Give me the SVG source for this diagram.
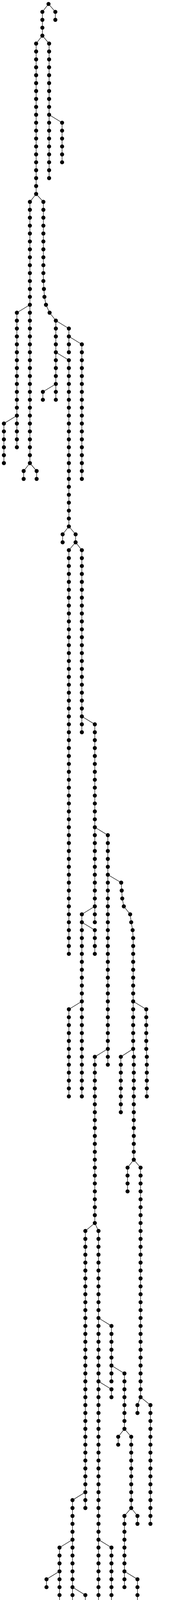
<svg xmlns="http://www.w3.org/2000/svg" width="467" height="4965" viewBox="0 0 467 4965">
<style>
.e path{fill:none;stroke:#000;stroke-width:1.2}
circle{fill:#000}
</style>
<rect width="467" height="4965" fill="#fff"/>
<g id="connectors" class="e">
<path d="M124.5 10.1L108.7 30.4V91.2"/>
<path d="M124.5 10.1L142 30.4V50.7"/>
<path d="M108.7 91.2L92.7 111.5V496.5"/>
<path d="M108.7 91.2L126 111.5V456"/>
<path d="M126 293.8L159.3 314.1V415.4"/>
<path d="M92.7 496.5L76.7 516.8V1185.5"/>
<path d="M92.7 496.5L111.3 516.8V719.4L112.7 739.7L114 759.9L118 780.2L127.3 800.5L143.3 820.7V1023.4"/>
<path d="M76.7 780.2L43.3 800.5V1145"/>
<path d="M76.7 1185.5L60.7 1205.8V1226"/>
<path d="M76.7 1185.5L94 1205.8V1226"/>
<path d="M43.3 1063.9L10 1084.2V1185.5"/>
<path d="M143.3 820.7L176.7 841V901.8"/>
<path d="M143.3 901.8L176.7 922.1V1347.6"/>
<path d="M143.3 982.9L110 1003.1V1023.4"/>
<path d="M176.7 861.3L210 881.5V1226"/>
<path d="M176.7 1347.6L160.7 1367.9V1388.2"/>
<path d="M176.7 1347.6L194 1367.9V1388.2"/>
<path d="M194 1388.2L176.7 1408.4V2441.9"/>
<path d="M194 1388.2L210 1408.4V1874.5"/>
<path d="M210 1834L243.3 1854.2V2360.9"/>
<path d="M243.3 2117.7L276.7 2138V2725.6"/>
<path d="M243.3 2320.3L210 2340.6V2806.7"/>
<path d="M210 2360.9L243.3 2381.1V2441.9"/>
<path d="M210 2563.5L176.7 2583.8V2806.7"/>
<path d="M276.7 2239.3L311 2259.5L312.3 2279.8L313.7 2300.1L317.7 2320.3L334 2340.6L336.7 2360.9L340.3 2381.1L341.7 2401.4V2685.1L343.3 2705.4V2968.8"/>
<path d="M276.7 2685.1L243.3 2705.4V3130.9"/>
<path d="M243.3 3130.9L219 3151.2V3860.5"/>
<path d="M243.3 3130.9L252.7 3151.2V4184.7"/>
<path d="M341.7 2563.5L375.3 2583.8V2685.1L376.7 2705.4V2806.7"/>
<path d="M341.7 2685.1L310 2705.4V2847.2"/>
<path d="M343.3 2968.8L327.3 2989.1V3049.9"/>
<path d="M343.3 2968.8L360.7 2989.1V3576.8"/>
<path d="M360.7 3576.8L352.7 3597V3617.3"/>
<path d="M360.7 3576.8L386 3597V3901"/>
<path d="M252.7 3374.1L286 3394.4V3536.2"/>
<path d="M252.7 3536.2L286 3556.5V3576.8"/>
<path d="M252.7 3941.5L286 3961.8V4103.7"/>
<path d="M286 3495.7L319.3 3516V3657.8"/>
<path d="M319.3 3657.8L303.3 3678.1V3698.4"/>
<path d="M319.3 3657.8L336.7 3678.1V3860.5"/>
<path d="M336.7 3860.5L319.3 3880.7V4063.1"/>
<path d="M336.7 3860.5L352.7 3880.7V3901"/>
<path d="M319.3 4022.6L352.7 4042.9V4265.8"/>
<path d="M352.7 4265.8L340.7 4286V4630.6"/>
<path d="M352.7 4265.8L374 4286V4509"/>
<path d="M340.7 4387.4L307.3 4407.6V4590"/>
<path d="M307.3 4427.9L274 4448.2V4468.4"/>
<path d="M307.3 4549.5L274 4569.8V4914.3"/>
<path d="M374 4468.4L407.3 4488.7V4711.6"/>
<path d="M407.3 4711.6L390 4731.9V4833.2"/>
<path d="M407.3 4711.6L423.3 4731.9V4792.7"/>
<path d="M423.3 4752.1L456.7 4772.4V4954.8"/>
<path d="M219 3820L186 3840.2V4346.8"/>
<path d="M186 3941.5L152.7 3961.8V4103.7"/>
<path d="M186 4063.1L219 4083.4V4103.7"/>
<path d="M186 4346.8L170 4367.1V4549.5"/>
<path d="M186 4346.8L203.3 4367.1V4549.5"/>
<path d="M152.7 4022.6L119.3 4042.9V4063.1"/>
<path d="M203.3 4549.5L195.3 4569.8V4671.1"/>
<path d="M203.3 4549.5L228.7 4569.8V4590"/>
</g>
<g id="nodes">
<g id="n1_0"><circle cx="124.5" cy="10.1" r="5.2"/></g>
<g id="n2_1"><circle cx="108.7" cy="30.4" r="5.2"/></g>
<g id="n2_2"><circle cx="108.7" cy="50.7" r="5.2"/></g>
<g id="n2_3"><circle cx="108.7" cy="70.9" r="5.2"/></g>
<g id="n2_4"><circle cx="108.7" cy="91.2" r="5.2"/></g>
<g id="n3_1"><circle cx="142" cy="30.4" r="5.2"/></g>
<g id="n3_2"><circle cx="142" cy="50.7" r="5.2"/></g>
<g id="n4_5"><circle cx="92.7" cy="111.5" r="5.2"/></g>
<g id="n4_6"><circle cx="92.7" cy="131.7" r="5.2"/></g>
<g id="n4_7"><circle cx="92.7" cy="152" r="5.2"/></g>
<g id="n4_8"><circle cx="92.7" cy="172.3" r="5.2"/></g>
<g id="n4_9"><circle cx="92.7" cy="192.5" r="5.2"/></g>
<g id="n4_10"><circle cx="92.7" cy="212.8" r="5.2"/></g>
<g id="n4_11"><circle cx="92.7" cy="233" r="5.2"/></g>
<g id="n4_12"><circle cx="92.7" cy="253.3" r="5.2"/></g>
<g id="n4_13"><circle cx="92.7" cy="273.6" r="5.2"/></g>
<g id="n4_14"><circle cx="92.7" cy="293.8" r="5.2"/></g>
<g id="n4_15"><circle cx="92.7" cy="314.1" r="5.2"/></g>
<g id="n4_16"><circle cx="92.7" cy="334.4" r="5.2"/></g>
<g id="n4_17"><circle cx="92.7" cy="354.6" r="5.2"/></g>
<g id="n4_18"><circle cx="92.7" cy="374.9" r="5.2"/></g>
<g id="n4_19"><circle cx="92.7" cy="395.2" r="5.2"/></g>
<g id="n4_20"><circle cx="92.7" cy="415.4" r="5.2"/></g>
<g id="n4_21"><circle cx="92.7" cy="435.7" r="5.2"/></g>
<g id="n4_22"><circle cx="92.7" cy="456" r="5.2"/></g>
<g id="n4_23"><circle cx="92.7" cy="476.2" r="5.2"/></g>
<g id="n4_24"><circle cx="92.7" cy="496.5" r="5.2"/></g>
<g id="n5_5"><circle cx="126" cy="111.5" r="5.2"/></g>
<g id="n5_6"><circle cx="126" cy="131.7" r="5.2"/></g>
<g id="n5_7"><circle cx="126" cy="152" r="5.2"/></g>
<g id="n5_8"><circle cx="126" cy="172.3" r="5.2"/></g>
<g id="n5_9"><circle cx="126" cy="192.5" r="5.2"/></g>
<g id="n5_10"><circle cx="126" cy="212.8" r="5.2"/></g>
<g id="n5_11"><circle cx="126" cy="233" r="5.2"/></g>
<g id="n5_12"><circle cx="126" cy="253.3" r="5.2"/></g>
<g id="n5_13"><circle cx="126" cy="273.6" r="5.2"/></g>
<g id="n5_14"><circle cx="126" cy="293.8" r="5.2"/></g>
<g id="n5_15"><circle cx="126" cy="314.1" r="5.2"/></g>
<g id="n5_16"><circle cx="126" cy="334.4" r="5.2"/></g>
<g id="n5_17"><circle cx="126" cy="354.6" r="5.2"/></g>
<g id="n5_18"><circle cx="126" cy="374.9" r="5.2"/></g>
<g id="n5_19"><circle cx="126" cy="395.2" r="5.2"/></g>
<g id="n5_20"><circle cx="126" cy="415.4" r="5.2"/></g>
<g id="n5_21"><circle cx="126" cy="435.7" r="5.2"/></g>
<g id="n5_22"><circle cx="126" cy="456" r="5.2"/></g>
<g id="n6_15"><circle cx="159.3" cy="314.1" r="5.2"/></g>
<g id="n6_16"><circle cx="159.3" cy="334.4" r="5.2"/></g>
<g id="n6_17"><circle cx="159.3" cy="354.6" r="5.2"/></g>
<g id="n6_18"><circle cx="159.3" cy="374.9" r="5.2"/></g>
<g id="n6_19"><circle cx="159.3" cy="395.2" r="5.2"/></g>
<g id="n6_20"><circle cx="159.3" cy="415.4" r="5.2"/></g>
<g id="n7_25"><circle cx="76.7" cy="516.8" r="5.2"/></g>
<g id="n7_26"><circle cx="76.7" cy="537" r="5.2"/></g>
<g id="n7_27"><circle cx="76.7" cy="557.3" r="5.2"/></g>
<g id="n7_28"><circle cx="76.7" cy="577.6" r="5.2"/></g>
<g id="n7_29"><circle cx="76.7" cy="597.8" r="5.2"/></g>
<g id="n7_30"><circle cx="76.7" cy="618.1" r="5.2"/></g>
<g id="n7_31"><circle cx="76.7" cy="638.3" r="5.2"/></g>
<g id="n7_32"><circle cx="76.7" cy="658.6" r="5.2"/></g>
<g id="n7_33"><circle cx="76.7" cy="678.9" r="5.2"/></g>
<g id="n7_34"><circle cx="76.7" cy="699.1" r="5.2"/></g>
<g id="n7_35"><circle cx="76.7" cy="719.4" r="5.2"/></g>
<g id="n7_36"><circle cx="76.7" cy="739.7" r="5.2"/></g>
<g id="n7_37"><circle cx="76.7" cy="759.9" r="5.2"/></g>
<g id="n7_38"><circle cx="76.7" cy="780.2" r="5.2"/></g>
<g id="n7_39"><circle cx="76.7" cy="800.5" r="5.2"/></g>
<g id="n7_40"><circle cx="76.7" cy="820.7" r="5.2"/></g>
<g id="n7_41"><circle cx="76.7" cy="841" r="5.2"/></g>
<g id="n7_42"><circle cx="76.7" cy="861.3" r="5.2"/></g>
<g id="n7_43"><circle cx="76.7" cy="881.5" r="5.2"/></g>
<g id="n7_44"><circle cx="76.7" cy="901.8" r="5.2"/></g>
<g id="n7_45"><circle cx="76.7" cy="922.1" r="5.2"/></g>
<g id="n7_46"><circle cx="76.7" cy="942.3" r="5.2"/></g>
<g id="n7_47"><circle cx="76.7" cy="962.6" r="5.2"/></g>
<g id="n7_48"><circle cx="76.7" cy="982.9" r="5.2"/></g>
<g id="n7_49"><circle cx="76.7" cy="1003.1" r="5.2"/></g>
<g id="n7_50"><circle cx="76.7" cy="1023.4" r="5.2"/></g>
<g id="n7_51"><circle cx="76.7" cy="1043.6" r="5.2"/></g>
<g id="n7_52"><circle cx="76.7" cy="1063.9" r="5.2"/></g>
<g id="n7_53"><circle cx="76.7" cy="1084.2" r="5.2"/></g>
<g id="n7_54"><circle cx="76.7" cy="1104.4" r="5.2"/></g>
<g id="n7_55"><circle cx="76.7" cy="1124.7" r="5.2"/></g>
<g id="n7_56"><circle cx="76.7" cy="1145" r="5.2"/></g>
<g id="n7_57"><circle cx="76.7" cy="1165.2" r="5.2"/></g>
<g id="n7_58"><circle cx="76.7" cy="1185.5" r="5.2"/></g>
<g id="n8_25"><circle cx="111.3" cy="516.8" r="5.2"/></g>
<g id="n8_26"><circle cx="111.3" cy="537" r="5.2"/></g>
<g id="n8_27"><circle cx="111.3" cy="557.3" r="5.2"/></g>
<g id="n8_28"><circle cx="111.3" cy="577.6" r="5.2"/></g>
<g id="n8_29"><circle cx="111.3" cy="597.8" r="5.2"/></g>
<g id="n8_30"><circle cx="111.3" cy="618.1" r="5.2"/></g>
<g id="n8_31"><circle cx="111.3" cy="638.3" r="5.2"/></g>
<g id="n8_32"><circle cx="111.3" cy="658.6" r="5.2"/></g>
<g id="n8_33"><circle cx="111.3" cy="678.9" r="5.2"/></g>
<g id="n8_34"><circle cx="111.3" cy="699.1" r="5.2"/></g>
<g id="n8_35"><circle cx="111.3" cy="719.4" r="5.2"/></g>
<g id="n8_36"><circle cx="112.7" cy="739.7" r="5.2"/></g>
<g id="n8_37"><circle cx="114" cy="759.9" r="5.2"/></g>
<g id="n8_38"><circle cx="118" cy="780.2" r="5.2"/></g>
<g id="n8_39"><circle cx="127.3" cy="800.5" r="5.2"/></g>
<g id="n8_40"><circle cx="143.3" cy="820.7" r="5.2"/></g>
<g id="n8_41"><circle cx="143.3" cy="841" r="5.2"/></g>
<g id="n8_42"><circle cx="143.3" cy="861.3" r="5.2"/></g>
<g id="n8_43"><circle cx="143.3" cy="881.5" r="5.2"/></g>
<g id="n8_44"><circle cx="143.3" cy="901.8" r="5.2"/></g>
<g id="n8_45"><circle cx="143.3" cy="922.1" r="5.2"/></g>
<g id="n8_46"><circle cx="143.3" cy="942.3" r="5.2"/></g>
<g id="n8_47"><circle cx="143.3" cy="962.6" r="5.2"/></g>
<g id="n8_48"><circle cx="143.3" cy="982.9" r="5.2"/></g>
<g id="n8_49"><circle cx="143.3" cy="1003.1" r="5.2"/></g>
<g id="n8_50"><circle cx="143.3" cy="1023.4" r="5.2"/></g>
<g id="n9_39"><circle cx="43.3" cy="800.5" r="5.2"/></g>
<g id="n9_40"><circle cx="43.3" cy="820.7" r="5.2"/></g>
<g id="n9_41"><circle cx="43.3" cy="841" r="5.2"/></g>
<g id="n9_42"><circle cx="43.3" cy="861.3" r="5.2"/></g>
<g id="n9_43"><circle cx="43.3" cy="881.5" r="5.2"/></g>
<g id="n9_44"><circle cx="43.3" cy="901.8" r="5.2"/></g>
<g id="n9_45"><circle cx="43.3" cy="922.1" r="5.2"/></g>
<g id="n9_46"><circle cx="43.3" cy="942.3" r="5.2"/></g>
<g id="n9_47"><circle cx="43.3" cy="962.6" r="5.2"/></g>
<g id="n9_48"><circle cx="43.3" cy="982.9" r="5.2"/></g>
<g id="n9_49"><circle cx="43.3" cy="1003.1" r="5.2"/></g>
<g id="n9_50"><circle cx="43.3" cy="1023.4" r="5.2"/></g>
<g id="n9_51"><circle cx="43.3" cy="1043.6" r="5.2"/></g>
<g id="n9_52"><circle cx="43.3" cy="1063.9" r="5.2"/></g>
<g id="n9_53"><circle cx="43.3" cy="1084.2" r="5.2"/></g>
<g id="n9_54"><circle cx="43.3" cy="1104.4" r="5.2"/></g>
<g id="n9_55"><circle cx="43.3" cy="1124.7" r="5.2"/></g>
<g id="n9_56"><circle cx="43.3" cy="1145" r="5.2"/></g>
<g id="n10_59"><circle cx="60.7" cy="1205.8" r="5.2"/></g>
<g id="n10_60"><circle cx="60.7" cy="1226" r="5.2"/></g>
<g id="n11_59"><circle cx="94" cy="1205.8" r="5.2"/></g>
<g id="n11_60"><circle cx="94" cy="1226" r="5.2"/></g>
<g id="n12_53"><circle cx="10" cy="1084.2" r="5.2"/></g>
<g id="n12_54"><circle cx="10" cy="1104.4" r="5.2"/></g>
<g id="n12_55"><circle cx="10" cy="1124.7" r="5.2"/></g>
<g id="n12_56"><circle cx="10" cy="1145" r="5.2"/></g>
<g id="n12_57"><circle cx="10" cy="1165.2" r="5.2"/></g>
<g id="n12_58"><circle cx="10" cy="1185.5" r="5.2"/></g>
<g id="n13_41"><circle cx="176.7" cy="841" r="5.2"/></g>
<g id="n13_42"><circle cx="176.7" cy="861.3" r="5.2"/></g>
<g id="n13_43"><circle cx="176.7" cy="881.5" r="5.2"/></g>
<g id="n13_44"><circle cx="176.7" cy="901.8" r="5.2"/></g>
<g id="n14_45"><circle cx="176.7" cy="922.1" r="5.2"/></g>
<g id="n14_46"><circle cx="176.7" cy="942.3" r="5.2"/></g>
<g id="n14_47"><circle cx="176.7" cy="962.6" r="5.2"/></g>
<g id="n14_48"><circle cx="176.7" cy="982.9" r="5.2"/></g>
<g id="n14_49"><circle cx="176.7" cy="1003.1" r="5.2"/></g>
<g id="n14_50"><circle cx="176.7" cy="1023.4" r="5.2"/></g>
<g id="n14_51"><circle cx="176.7" cy="1043.6" r="5.2"/></g>
<g id="n14_52"><circle cx="176.7" cy="1063.9" r="5.2"/></g>
<g id="n14_53"><circle cx="176.7" cy="1084.2" r="5.2"/></g>
<g id="n14_54"><circle cx="176.7" cy="1104.4" r="5.2"/></g>
<g id="n14_55"><circle cx="176.7" cy="1124.7" r="5.2"/></g>
<g id="n14_56"><circle cx="176.7" cy="1145" r="5.2"/></g>
<g id="n14_57"><circle cx="176.7" cy="1165.2" r="5.2"/></g>
<g id="n14_58"><circle cx="176.7" cy="1185.5" r="5.2"/></g>
<g id="n14_59"><circle cx="176.7" cy="1205.8" r="5.2"/></g>
<g id="n14_60"><circle cx="176.7" cy="1226" r="5.2"/></g>
<g id="n14_61"><circle cx="176.7" cy="1246.3" r="5.2"/></g>
<g id="n14_62"><circle cx="176.7" cy="1266.6" r="5.2"/></g>
<g id="n14_63"><circle cx="176.7" cy="1286.8" r="5.2"/></g>
<g id="n14_64"><circle cx="176.7" cy="1307.1" r="5.2"/></g>
<g id="n14_65"><circle cx="176.7" cy="1327.4" r="5.2"/></g>
<g id="n14_66"><circle cx="176.7" cy="1347.6" r="5.2"/></g>
<g id="n15_49"><circle cx="110" cy="1003.1" r="5.2"/></g>
<g id="n15_50"><circle cx="110" cy="1023.4" r="5.2"/></g>
<g id="n16_43"><circle cx="210" cy="881.5" r="5.2"/></g>
<g id="n16_44"><circle cx="210" cy="901.8" r="5.2"/></g>
<g id="n16_45"><circle cx="210" cy="922.1" r="5.2"/></g>
<g id="n16_46"><circle cx="210" cy="942.3" r="5.2"/></g>
<g id="n16_47"><circle cx="210" cy="962.6" r="5.2"/></g>
<g id="n16_48"><circle cx="210" cy="982.9" r="5.2"/></g>
<g id="n16_49"><circle cx="210" cy="1003.1" r="5.2"/></g>
<g id="n16_50"><circle cx="210" cy="1023.4" r="5.2"/></g>
<g id="n16_51"><circle cx="210" cy="1043.6" r="5.2"/></g>
<g id="n16_52"><circle cx="210" cy="1063.9" r="5.2"/></g>
<g id="n16_53"><circle cx="210" cy="1084.2" r="5.2"/></g>
<g id="n16_54"><circle cx="210" cy="1104.4" r="5.2"/></g>
<g id="n16_55"><circle cx="210" cy="1124.7" r="5.2"/></g>
<g id="n16_56"><circle cx="210" cy="1145" r="5.2"/></g>
<g id="n16_57"><circle cx="210" cy="1165.2" r="5.2"/></g>
<g id="n16_58"><circle cx="210" cy="1185.5" r="5.2"/></g>
<g id="n16_59"><circle cx="210" cy="1205.8" r="5.2"/></g>
<g id="n16_60"><circle cx="210" cy="1226" r="5.2"/></g>
<g id="n17_67"><circle cx="160.7" cy="1367.9" r="5.2"/></g>
<g id="n17_68"><circle cx="160.7" cy="1388.2" r="5.2"/></g>
<g id="n18_67"><circle cx="194" cy="1367.9" r="5.2"/></g>
<g id="n18_68"><circle cx="194" cy="1388.2" r="5.2"/></g>
<g id="n19_69"><circle cx="176.7" cy="1408.4" r="5.2"/></g>
<g id="n19_70"><circle cx="176.7" cy="1428.7" r="5.2"/></g>
<g id="n19_71"><circle cx="176.7" cy="1448.9" r="5.2"/></g>
<g id="n19_72"><circle cx="176.7" cy="1469.2" r="5.2"/></g>
<g id="n19_73"><circle cx="176.7" cy="1489.5" r="5.2"/></g>
<g id="n19_74"><circle cx="176.7" cy="1509.7" r="5.2"/></g>
<g id="n19_75"><circle cx="176.7" cy="1530" r="5.2"/></g>
<g id="n19_76"><circle cx="176.7" cy="1550.3" r="5.2"/></g>
<g id="n19_77"><circle cx="176.7" cy="1570.5" r="5.2"/></g>
<g id="n19_78"><circle cx="176.7" cy="1590.8" r="5.2"/></g>
<g id="n19_79"><circle cx="176.7" cy="1611.1" r="5.2"/></g>
<g id="n19_80"><circle cx="176.7" cy="1631.3" r="5.2"/></g>
<g id="n19_81"><circle cx="176.7" cy="1651.6" r="5.2"/></g>
<g id="n19_82"><circle cx="176.7" cy="1671.9" r="5.2"/></g>
<g id="n19_83"><circle cx="176.7" cy="1692.1" r="5.2"/></g>
<g id="n19_84"><circle cx="176.7" cy="1712.4" r="5.2"/></g>
<g id="n19_85"><circle cx="176.7" cy="1732.7" r="5.2"/></g>
<g id="n19_86"><circle cx="176.7" cy="1752.9" r="5.2"/></g>
<g id="n19_87"><circle cx="176.7" cy="1773.2" r="5.2"/></g>
<g id="n19_88"><circle cx="176.7" cy="1793.5" r="5.2"/></g>
<g id="n19_89"><circle cx="176.7" cy="1813.7" r="5.2"/></g>
<g id="n19_90"><circle cx="176.7" cy="1834" r="5.2"/></g>
<g id="n19_91"><circle cx="176.7" cy="1854.2" r="5.2"/></g>
<g id="n19_92"><circle cx="176.7" cy="1874.5" r="5.2"/></g>
<g id="n19_93"><circle cx="176.7" cy="1894.8" r="5.2"/></g>
<g id="n19_94"><circle cx="176.7" cy="1915" r="5.2"/></g>
<g id="n19_95"><circle cx="176.7" cy="1935.3" r="5.2"/></g>
<g id="n19_96"><circle cx="176.7" cy="1955.6" r="5.2"/></g>
<g id="n19_97"><circle cx="176.7" cy="1975.8" r="5.2"/></g>
<g id="n19_98"><circle cx="176.7" cy="1996.1" r="5.2"/></g>
<g id="n19_99"><circle cx="176.7" cy="2016.4" r="5.2"/></g>
<g id="n19_100"><circle cx="176.7" cy="2036.6" r="5.2"/></g>
<g id="n19_101"><circle cx="176.7" cy="2056.9" r="5.2"/></g>
<g id="n19_102"><circle cx="176.7" cy="2077.2" r="5.2"/></g>
<g id="n19_103"><circle cx="176.7" cy="2097.4" r="5.2"/></g>
<g id="n19_104"><circle cx="176.7" cy="2117.7" r="5.2"/></g>
<g id="n19_105"><circle cx="176.7" cy="2138" r="5.2"/></g>
<g id="n19_106"><circle cx="176.7" cy="2158.2" r="5.2"/></g>
<g id="n19_107"><circle cx="176.7" cy="2178.5" r="5.2"/></g>
<g id="n19_108"><circle cx="176.7" cy="2198.8" r="5.2"/></g>
<g id="n19_109"><circle cx="176.7" cy="2219" r="5.2"/></g>
<g id="n19_110"><circle cx="176.7" cy="2239.3" r="5.2"/></g>
<g id="n19_111"><circle cx="176.7" cy="2259.5" r="5.2"/></g>
<g id="n19_112"><circle cx="176.7" cy="2279.8" r="5.2"/></g>
<g id="n19_113"><circle cx="176.7" cy="2300.1" r="5.2"/></g>
<g id="n19_114"><circle cx="176.7" cy="2320.3" r="5.2"/></g>
<g id="n19_115"><circle cx="176.7" cy="2340.6" r="5.2"/></g>
<g id="n19_116"><circle cx="176.7" cy="2360.9" r="5.2"/></g>
<g id="n19_117"><circle cx="176.7" cy="2381.1" r="5.2"/></g>
<g id="n19_118"><circle cx="176.7" cy="2401.4" r="5.2"/></g>
<g id="n19_119"><circle cx="176.7" cy="2421.7" r="5.2"/></g>
<g id="n19_120"><circle cx="176.7" cy="2441.9" r="5.2"/></g>
<g id="n20_69"><circle cx="210" cy="1408.4" r="5.2"/></g>
<g id="n20_70"><circle cx="210" cy="1428.7" r="5.2"/></g>
<g id="n20_71"><circle cx="210" cy="1448.9" r="5.2"/></g>
<g id="n20_72"><circle cx="210" cy="1469.2" r="5.2"/></g>
<g id="n20_73"><circle cx="210" cy="1489.5" r="5.2"/></g>
<g id="n20_74"><circle cx="210" cy="1509.7" r="5.2"/></g>
<g id="n20_75"><circle cx="210" cy="1530" r="5.2"/></g>
<g id="n20_76"><circle cx="210" cy="1550.3" r="5.2"/></g>
<g id="n20_77"><circle cx="210" cy="1570.5" r="5.2"/></g>
<g id="n20_78"><circle cx="210" cy="1590.8" r="5.2"/></g>
<g id="n20_79"><circle cx="210" cy="1611.1" r="5.2"/></g>
<g id="n20_80"><circle cx="210" cy="1631.3" r="5.2"/></g>
<g id="n20_81"><circle cx="210" cy="1651.6" r="5.2"/></g>
<g id="n20_82"><circle cx="210" cy="1671.9" r="5.2"/></g>
<g id="n20_83"><circle cx="210" cy="1692.1" r="5.2"/></g>
<g id="n20_84"><circle cx="210" cy="1712.4" r="5.2"/></g>
<g id="n20_85"><circle cx="210" cy="1732.7" r="5.2"/></g>
<g id="n20_86"><circle cx="210" cy="1752.9" r="5.2"/></g>
<g id="n20_87"><circle cx="210" cy="1773.2" r="5.2"/></g>
<g id="n20_88"><circle cx="210" cy="1793.5" r="5.2"/></g>
<g id="n20_89"><circle cx="210" cy="1813.7" r="5.2"/></g>
<g id="n20_90"><circle cx="210" cy="1834" r="5.2"/></g>
<g id="n20_91"><circle cx="210" cy="1854.2" r="5.2"/></g>
<g id="n20_92"><circle cx="210" cy="1874.5" r="5.2"/></g>
<g id="n21_91"><circle cx="243.3" cy="1854.2" r="5.2"/></g>
<g id="n21_92"><circle cx="243.3" cy="1874.5" r="5.2"/></g>
<g id="n21_93"><circle cx="243.3" cy="1894.8" r="5.2"/></g>
<g id="n21_94"><circle cx="243.3" cy="1915" r="5.2"/></g>
<g id="n21_95"><circle cx="243.3" cy="1935.3" r="5.2"/></g>
<g id="n21_96"><circle cx="243.3" cy="1955.6" r="5.2"/></g>
<g id="n21_97"><circle cx="243.3" cy="1975.8" r="5.2"/></g>
<g id="n21_98"><circle cx="243.3" cy="1996.1" r="5.2"/></g>
<g id="n21_99"><circle cx="243.3" cy="2016.4" r="5.2"/></g>
<g id="n21_100"><circle cx="243.3" cy="2036.6" r="5.2"/></g>
<g id="n21_101"><circle cx="243.3" cy="2056.9" r="5.2"/></g>
<g id="n21_102"><circle cx="243.3" cy="2077.2" r="5.2"/></g>
<g id="n21_103"><circle cx="243.3" cy="2097.4" r="5.2"/></g>
<g id="n21_104"><circle cx="243.3" cy="2117.7" r="5.2"/></g>
<g id="n21_105"><circle cx="243.3" cy="2138" r="5.2"/></g>
<g id="n21_106"><circle cx="243.3" cy="2158.2" r="5.2"/></g>
<g id="n21_107"><circle cx="243.3" cy="2178.5" r="5.2"/></g>
<g id="n21_108"><circle cx="243.3" cy="2198.8" r="5.2"/></g>
<g id="n21_109"><circle cx="243.3" cy="2219" r="5.2"/></g>
<g id="n21_110"><circle cx="243.3" cy="2239.3" r="5.2"/></g>
<g id="n21_111"><circle cx="243.3" cy="2259.5" r="5.2"/></g>
<g id="n21_112"><circle cx="243.3" cy="2279.8" r="5.2"/></g>
<g id="n21_113"><circle cx="243.3" cy="2300.1" r="5.2"/></g>
<g id="n21_114"><circle cx="243.3" cy="2320.3" r="5.2"/></g>
<g id="n21_115"><circle cx="243.3" cy="2340.6" r="5.2"/></g>
<g id="n21_116"><circle cx="243.3" cy="2360.9" r="5.2"/></g>
<g id="n22_105"><circle cx="276.7" cy="2138" r="5.2"/></g>
<g id="n22_106"><circle cx="276.7" cy="2158.2" r="5.2"/></g>
<g id="n22_107"><circle cx="276.7" cy="2178.5" r="5.2"/></g>
<g id="n22_108"><circle cx="276.7" cy="2198.8" r="5.2"/></g>
<g id="n22_109"><circle cx="276.7" cy="2219" r="5.2"/></g>
<g id="n22_110"><circle cx="276.7" cy="2239.3" r="5.2"/></g>
<g id="n22_111"><circle cx="276.7" cy="2259.5" r="5.2"/></g>
<g id="n22_112"><circle cx="276.7" cy="2279.8" r="5.2"/></g>
<g id="n22_113"><circle cx="276.7" cy="2300.1" r="5.2"/></g>
<g id="n22_114"><circle cx="276.7" cy="2320.3" r="5.2"/></g>
<g id="n22_115"><circle cx="276.7" cy="2340.6" r="5.2"/></g>
<g id="n22_116"><circle cx="276.7" cy="2360.9" r="5.2"/></g>
<g id="n22_117"><circle cx="276.7" cy="2381.1" r="5.2"/></g>
<g id="n22_118"><circle cx="276.7" cy="2401.4" r="5.2"/></g>
<g id="n22_119"><circle cx="276.7" cy="2421.7" r="5.2"/></g>
<g id="n22_120"><circle cx="276.7" cy="2441.9" r="5.2"/></g>
<g id="n22_121"><circle cx="276.7" cy="2462.2" r="5.2"/></g>
<g id="n22_122"><circle cx="276.7" cy="2482.5" r="5.2"/></g>
<g id="n22_123"><circle cx="276.7" cy="2502.7" r="5.2"/></g>
<g id="n22_124"><circle cx="276.7" cy="2523" r="5.2"/></g>
<g id="n22_125"><circle cx="276.7" cy="2543.3" r="5.2"/></g>
<g id="n22_126"><circle cx="276.7" cy="2563.5" r="5.2"/></g>
<g id="n22_127"><circle cx="276.7" cy="2583.8" r="5.2"/></g>
<g id="n22_128"><circle cx="276.7" cy="2604.1" r="5.2"/></g>
<g id="n22_129"><circle cx="276.7" cy="2624.3" r="5.2"/></g>
<g id="n22_130"><circle cx="276.7" cy="2644.6" r="5.2"/></g>
<g id="n22_131"><circle cx="276.7" cy="2664.8" r="5.2"/></g>
<g id="n22_132"><circle cx="276.7" cy="2685.1" r="5.2"/></g>
<g id="n22_133"><circle cx="276.7" cy="2705.4" r="5.2"/></g>
<g id="n22_134"><circle cx="276.7" cy="2725.6" r="5.2"/></g>
<g id="n23_115"><circle cx="210" cy="2340.6" r="5.2"/></g>
<g id="n23_116"><circle cx="210" cy="2360.9" r="5.2"/></g>
<g id="n23_117"><circle cx="210" cy="2381.1" r="5.2"/></g>
<g id="n23_118"><circle cx="210" cy="2401.4" r="5.2"/></g>
<g id="n23_119"><circle cx="210" cy="2421.7" r="5.2"/></g>
<g id="n23_120"><circle cx="210" cy="2441.9" r="5.2"/></g>
<g id="n23_121"><circle cx="210" cy="2462.2" r="5.2"/></g>
<g id="n23_122"><circle cx="210" cy="2482.5" r="5.2"/></g>
<g id="n23_123"><circle cx="210" cy="2502.7" r="5.2"/></g>
<g id="n23_124"><circle cx="210" cy="2523" r="5.2"/></g>
<g id="n23_125"><circle cx="210" cy="2543.3" r="5.2"/></g>
<g id="n23_126"><circle cx="210" cy="2563.5" r="5.2"/></g>
<g id="n23_127"><circle cx="210" cy="2583.8" r="5.2"/></g>
<g id="n23_128"><circle cx="210" cy="2604.1" r="5.2"/></g>
<g id="n23_129"><circle cx="210" cy="2624.3" r="5.2"/></g>
<g id="n23_130"><circle cx="210" cy="2644.6" r="5.2"/></g>
<g id="n23_131"><circle cx="210" cy="2664.8" r="5.2"/></g>
<g id="n23_132"><circle cx="210" cy="2685.1" r="5.2"/></g>
<g id="n23_133"><circle cx="210" cy="2705.4" r="5.2"/></g>
<g id="n23_134"><circle cx="210" cy="2725.6" r="5.2"/></g>
<g id="n23_135"><circle cx="210" cy="2745.9" r="5.2"/></g>
<g id="n23_136"><circle cx="210" cy="2766.2" r="5.2"/></g>
<g id="n23_137"><circle cx="210" cy="2786.4" r="5.2"/></g>
<g id="n23_138"><circle cx="210" cy="2806.7" r="5.2"/></g>
<g id="n24_117"><circle cx="243.3" cy="2381.1" r="5.2"/></g>
<g id="n24_118"><circle cx="243.3" cy="2401.4" r="5.2"/></g>
<g id="n24_119"><circle cx="243.3" cy="2421.7" r="5.2"/></g>
<g id="n24_120"><circle cx="243.3" cy="2441.9" r="5.2"/></g>
<g id="n25_127"><circle cx="176.7" cy="2583.8" r="5.2"/></g>
<g id="n25_128"><circle cx="176.7" cy="2604.1" r="5.2"/></g>
<g id="n25_129"><circle cx="176.7" cy="2624.3" r="5.2"/></g>
<g id="n25_130"><circle cx="176.7" cy="2644.6" r="5.2"/></g>
<g id="n25_131"><circle cx="176.7" cy="2664.8" r="5.2"/></g>
<g id="n25_132"><circle cx="176.7" cy="2685.1" r="5.2"/></g>
<g id="n25_133"><circle cx="176.7" cy="2705.4" r="5.2"/></g>
<g id="n25_134"><circle cx="176.7" cy="2725.6" r="5.2"/></g>
<g id="n25_135"><circle cx="176.7" cy="2745.9" r="5.2"/></g>
<g id="n25_136"><circle cx="176.7" cy="2766.2" r="5.2"/></g>
<g id="n25_137"><circle cx="176.7" cy="2786.4" r="5.2"/></g>
<g id="n25_138"><circle cx="176.7" cy="2806.7" r="5.2"/></g>
<g id="n26_111"><circle cx="311" cy="2259.5" r="5.2"/></g>
<g id="n26_112"><circle cx="312.3" cy="2279.8" r="5.2"/></g>
<g id="n26_113"><circle cx="313.7" cy="2300.1" r="5.2"/></g>
<g id="n26_114"><circle cx="317.7" cy="2320.3" r="5.2"/></g>
<g id="n26_115"><circle cx="334" cy="2340.6" r="5.2"/></g>
<g id="n26_116"><circle cx="336.7" cy="2360.9" r="5.2"/></g>
<g id="n26_117"><circle cx="340.3" cy="2381.1" r="5.2"/></g>
<g id="n26_118"><circle cx="341.7" cy="2401.4" r="5.2"/></g>
<g id="n26_119"><circle cx="341.7" cy="2421.7" r="5.2"/></g>
<g id="n26_120"><circle cx="341.7" cy="2441.9" r="5.2"/></g>
<g id="n26_121"><circle cx="341.7" cy="2462.2" r="5.2"/></g>
<g id="n26_122"><circle cx="341.7" cy="2482.5" r="5.2"/></g>
<g id="n26_123"><circle cx="341.7" cy="2502.7" r="5.2"/></g>
<g id="n26_124"><circle cx="341.7" cy="2523" r="5.2"/></g>
<g id="n26_125"><circle cx="341.7" cy="2543.3" r="5.2"/></g>
<g id="n26_126"><circle cx="341.7" cy="2563.5" r="5.2"/></g>
<g id="n26_127"><circle cx="341.7" cy="2583.8" r="5.2"/></g>
<g id="n26_128"><circle cx="341.7" cy="2604.1" r="5.2"/></g>
<g id="n26_129"><circle cx="341.7" cy="2624.3" r="5.2"/></g>
<g id="n26_130"><circle cx="341.7" cy="2644.6" r="5.2"/></g>
<g id="n26_131"><circle cx="341.7" cy="2664.8" r="5.2"/></g>
<g id="n26_132"><circle cx="341.7" cy="2685.1" r="5.2"/></g>
<g id="n26_133"><circle cx="343.3" cy="2705.4" r="5.2"/></g>
<g id="n26_134"><circle cx="343.3" cy="2725.6" r="5.2"/></g>
<g id="n26_135"><circle cx="343.3" cy="2745.9" r="5.2"/></g>
<g id="n26_136"><circle cx="343.3" cy="2766.2" r="5.2"/></g>
<g id="n26_137"><circle cx="343.3" cy="2786.4" r="5.2"/></g>
<g id="n26_138"><circle cx="343.3" cy="2806.7" r="5.2"/></g>
<g id="n26_139"><circle cx="343.3" cy="2827" r="5.2"/></g>
<g id="n26_140"><circle cx="343.3" cy="2847.2" r="5.2"/></g>
<g id="n26_141"><circle cx="343.3" cy="2867.5" r="5.2"/></g>
<g id="n26_142"><circle cx="343.3" cy="2887.8" r="5.2"/></g>
<g id="n26_143"><circle cx="343.3" cy="2908" r="5.2"/></g>
<g id="n26_144"><circle cx="343.3" cy="2928.3" r="5.2"/></g>
<g id="n26_145"><circle cx="343.3" cy="2948.6" r="5.2"/></g>
<g id="n26_146"><circle cx="343.3" cy="2968.8" r="5.2"/></g>
<g id="n27_133"><circle cx="243.3" cy="2705.4" r="5.2"/></g>
<g id="n27_134"><circle cx="243.3" cy="2725.6" r="5.2"/></g>
<g id="n27_135"><circle cx="243.3" cy="2745.9" r="5.2"/></g>
<g id="n27_136"><circle cx="243.3" cy="2766.2" r="5.2"/></g>
<g id="n27_137"><circle cx="243.3" cy="2786.4" r="5.2"/></g>
<g id="n27_138"><circle cx="243.3" cy="2806.7" r="5.2"/></g>
<g id="n27_139"><circle cx="243.3" cy="2827" r="5.2"/></g>
<g id="n27_140"><circle cx="243.3" cy="2847.2" r="5.2"/></g>
<g id="n27_141"><circle cx="243.3" cy="2867.5" r="5.2"/></g>
<g id="n27_142"><circle cx="243.3" cy="2887.8" r="5.2"/></g>
<g id="n27_143"><circle cx="243.3" cy="2908" r="5.2"/></g>
<g id="n27_144"><circle cx="243.3" cy="2928.3" r="5.2"/></g>
<g id="n27_145"><circle cx="243.3" cy="2948.6" r="5.2"/></g>
<g id="n27_146"><circle cx="243.3" cy="2968.8" r="5.2"/></g>
<g id="n27_147"><circle cx="243.3" cy="2989.1" r="5.2"/></g>
<g id="n27_148"><circle cx="243.3" cy="3009.4" r="5.2"/></g>
<g id="n27_149"><circle cx="243.3" cy="3029.6" r="5.2"/></g>
<g id="n27_150"><circle cx="243.3" cy="3049.9" r="5.2"/></g>
<g id="n27_151"><circle cx="243.3" cy="3070.1" r="5.2"/></g>
<g id="n27_152"><circle cx="243.3" cy="3090.4" r="5.2"/></g>
<g id="n27_153"><circle cx="243.3" cy="3110.7" r="5.2"/></g>
<g id="n27_154"><circle cx="243.3" cy="3130.9" r="5.2"/></g>
<g id="n28_155"><circle cx="219" cy="3151.2" r="5.2"/></g>
<g id="n28_156"><circle cx="219" cy="3171.5" r="5.2"/></g>
<g id="n28_157"><circle cx="219" cy="3191.7" r="5.2"/></g>
<g id="n28_158"><circle cx="219" cy="3212" r="5.2"/></g>
<g id="n28_159"><circle cx="219" cy="3232.3" r="5.2"/></g>
<g id="n28_160"><circle cx="219" cy="3252.5" r="5.2"/></g>
<g id="n28_161"><circle cx="219" cy="3272.8" r="5.2"/></g>
<g id="n28_162"><circle cx="219" cy="3293.1" r="5.2"/></g>
<g id="n28_163"><circle cx="219" cy="3313.3" r="5.2"/></g>
<g id="n28_164"><circle cx="219" cy="3333.6" r="5.2"/></g>
<g id="n28_165"><circle cx="219" cy="3353.9" r="5.2"/></g>
<g id="n28_166"><circle cx="219" cy="3374.1" r="5.2"/></g>
<g id="n28_167"><circle cx="219" cy="3394.4" r="5.2"/></g>
<g id="n28_168"><circle cx="219" cy="3414.7" r="5.2"/></g>
<g id="n28_169"><circle cx="219" cy="3434.9" r="5.2"/></g>
<g id="n28_170"><circle cx="219" cy="3455.2" r="5.2"/></g>
<g id="n28_171"><circle cx="219" cy="3475.4" r="5.2"/></g>
<g id="n28_172"><circle cx="219" cy="3495.7" r="5.2"/></g>
<g id="n28_173"><circle cx="219" cy="3516" r="5.2"/></g>
<g id="n28_174"><circle cx="219" cy="3536.2" r="5.2"/></g>
<g id="n28_175"><circle cx="219" cy="3556.5" r="5.2"/></g>
<g id="n28_176"><circle cx="219" cy="3576.8" r="5.2"/></g>
<g id="n28_177"><circle cx="219" cy="3597" r="5.2"/></g>
<g id="n28_178"><circle cx="219" cy="3617.3" r="5.2"/></g>
<g id="n28_179"><circle cx="219" cy="3637.6" r="5.2"/></g>
<g id="n28_180"><circle cx="219" cy="3657.8" r="5.2"/></g>
<g id="n28_181"><circle cx="219" cy="3678.1" r="5.2"/></g>
<g id="n28_182"><circle cx="219" cy="3698.4" r="5.2"/></g>
<g id="n28_183"><circle cx="219" cy="3718.6" r="5.2"/></g>
<g id="n28_184"><circle cx="219" cy="3738.9" r="5.2"/></g>
<g id="n28_185"><circle cx="219" cy="3759.2" r="5.2"/></g>
<g id="n28_186"><circle cx="219" cy="3779.4" r="5.2"/></g>
<g id="n28_187"><circle cx="219" cy="3799.7" r="5.2"/></g>
<g id="n28_188"><circle cx="219" cy="3820" r="5.2"/></g>
<g id="n28_189"><circle cx="219" cy="3840.2" r="5.2"/></g>
<g id="n28_190"><circle cx="219" cy="3860.5" r="5.2"/></g>
<g id="n29_155"><circle cx="252.7" cy="3151.2" r="5.2"/></g>
<g id="n29_156"><circle cx="252.7" cy="3171.5" r="5.2"/></g>
<g id="n29_157"><circle cx="252.7" cy="3191.7" r="5.2"/></g>
<g id="n29_158"><circle cx="252.7" cy="3212" r="5.2"/></g>
<g id="n29_159"><circle cx="252.7" cy="3232.3" r="5.2"/></g>
<g id="n29_160"><circle cx="252.7" cy="3252.5" r="5.2"/></g>
<g id="n29_161"><circle cx="252.7" cy="3272.8" r="5.2"/></g>
<g id="n29_162"><circle cx="252.7" cy="3293.1" r="5.2"/></g>
<g id="n29_163"><circle cx="252.7" cy="3313.3" r="5.2"/></g>
<g id="n29_164"><circle cx="252.7" cy="3333.6" r="5.2"/></g>
<g id="n29_165"><circle cx="252.7" cy="3353.9" r="5.2"/></g>
<g id="n29_166"><circle cx="252.7" cy="3374.1" r="5.2"/></g>
<g id="n29_167"><circle cx="252.7" cy="3394.4" r="5.2"/></g>
<g id="n29_168"><circle cx="252.7" cy="3414.7" r="5.2"/></g>
<g id="n29_169"><circle cx="252.7" cy="3434.9" r="5.2"/></g>
<g id="n29_170"><circle cx="252.7" cy="3455.2" r="5.2"/></g>
<g id="n29_171"><circle cx="252.7" cy="3475.4" r="5.2"/></g>
<g id="n29_172"><circle cx="252.7" cy="3495.7" r="5.2"/></g>
<g id="n29_173"><circle cx="252.7" cy="3516" r="5.2"/></g>
<g id="n29_174"><circle cx="252.7" cy="3536.2" r="5.2"/></g>
<g id="n29_175"><circle cx="252.7" cy="3556.5" r="5.2"/></g>
<g id="n29_176"><circle cx="252.7" cy="3576.8" r="5.2"/></g>
<g id="n29_177"><circle cx="252.7" cy="3597" r="5.2"/></g>
<g id="n29_178"><circle cx="252.7" cy="3617.3" r="5.2"/></g>
<g id="n29_179"><circle cx="252.7" cy="3637.6" r="5.2"/></g>
<g id="n29_180"><circle cx="252.7" cy="3657.8" r="5.2"/></g>
<g id="n29_181"><circle cx="252.7" cy="3678.1" r="5.2"/></g>
<g id="n29_182"><circle cx="252.7" cy="3698.4" r="5.2"/></g>
<g id="n29_183"><circle cx="252.7" cy="3718.6" r="5.2"/></g>
<g id="n29_184"><circle cx="252.7" cy="3738.9" r="5.2"/></g>
<g id="n29_185"><circle cx="252.7" cy="3759.2" r="5.2"/></g>
<g id="n29_186"><circle cx="252.7" cy="3779.4" r="5.2"/></g>
<g id="n29_187"><circle cx="252.7" cy="3799.7" r="5.2"/></g>
<g id="n29_188"><circle cx="252.7" cy="3820" r="5.2"/></g>
<g id="n29_189"><circle cx="252.7" cy="3840.2" r="5.2"/></g>
<g id="n29_190"><circle cx="252.7" cy="3860.5" r="5.2"/></g>
<g id="n29_191"><circle cx="252.7" cy="3880.7" r="5.2"/></g>
<g id="n29_192"><circle cx="252.7" cy="3901" r="5.2"/></g>
<g id="n29_193"><circle cx="252.7" cy="3921.3" r="5.2"/></g>
<g id="n29_194"><circle cx="252.7" cy="3941.5" r="5.2"/></g>
<g id="n29_195"><circle cx="252.7" cy="3961.8" r="5.2"/></g>
<g id="n29_196"><circle cx="252.7" cy="3982.1" r="5.2"/></g>
<g id="n29_197"><circle cx="252.7" cy="4002.3" r="5.2"/></g>
<g id="n29_198"><circle cx="252.7" cy="4022.6" r="5.2"/></g>
<g id="n29_199"><circle cx="252.7" cy="4042.9" r="5.2"/></g>
<g id="n29_200"><circle cx="252.7" cy="4063.1" r="5.2"/></g>
<g id="n29_201"><circle cx="252.7" cy="4083.4" r="5.2"/></g>
<g id="n29_202"><circle cx="252.7" cy="4103.7" r="5.2"/></g>
<g id="n29_203"><circle cx="252.7" cy="4123.9" r="5.2"/></g>
<g id="n29_204"><circle cx="252.7" cy="4144.2" r="5.2"/></g>
<g id="n29_205"><circle cx="252.7" cy="4164.5" r="5.2"/></g>
<g id="n29_206"><circle cx="252.7" cy="4184.7" r="5.2"/></g>
<g id="n30_127"><circle cx="375.3" cy="2583.8" r="5.2"/></g>
<g id="n30_128"><circle cx="375.3" cy="2604.1" r="5.2"/></g>
<g id="n30_129"><circle cx="375.3" cy="2624.3" r="5.2"/></g>
<g id="n30_130"><circle cx="375.3" cy="2644.6" r="5.2"/></g>
<g id="n30_131"><circle cx="375.3" cy="2664.8" r="5.2"/></g>
<g id="n30_132"><circle cx="375.3" cy="2685.1" r="5.2"/></g>
<g id="n30_133"><circle cx="376.7" cy="2705.4" r="5.2"/></g>
<g id="n30_134"><circle cx="376.7" cy="2725.6" r="5.2"/></g>
<g id="n30_135"><circle cx="376.7" cy="2745.9" r="5.2"/></g>
<g id="n30_136"><circle cx="376.7" cy="2766.2" r="5.2"/></g>
<g id="n30_137"><circle cx="376.7" cy="2786.4" r="5.2"/></g>
<g id="n30_138"><circle cx="376.7" cy="2806.7" r="5.2"/></g>
<g id="n31_133"><circle cx="310" cy="2705.4" r="5.2"/></g>
<g id="n31_134"><circle cx="310" cy="2725.6" r="5.2"/></g>
<g id="n31_135"><circle cx="310" cy="2745.9" r="5.2"/></g>
<g id="n31_136"><circle cx="310" cy="2766.2" r="5.2"/></g>
<g id="n31_137"><circle cx="310" cy="2786.4" r="5.2"/></g>
<g id="n31_138"><circle cx="310" cy="2806.7" r="5.2"/></g>
<g id="n31_139"><circle cx="310" cy="2827" r="5.2"/></g>
<g id="n31_140"><circle cx="310" cy="2847.2" r="5.2"/></g>
<g id="n32_147"><circle cx="327.3" cy="2989.1" r="5.2"/></g>
<g id="n32_148"><circle cx="327.3" cy="3009.4" r="5.2"/></g>
<g id="n32_149"><circle cx="327.3" cy="3029.6" r="5.2"/></g>
<g id="n32_150"><circle cx="327.3" cy="3049.9" r="5.2"/></g>
<g id="n33_147"><circle cx="360.7" cy="2989.1" r="5.2"/></g>
<g id="n33_148"><circle cx="360.7" cy="3009.4" r="5.2"/></g>
<g id="n33_149"><circle cx="360.7" cy="3029.6" r="5.2"/></g>
<g id="n33_150"><circle cx="360.7" cy="3049.9" r="5.2"/></g>
<g id="n33_151"><circle cx="360.7" cy="3070.1" r="5.2"/></g>
<g id="n33_152"><circle cx="360.7" cy="3090.4" r="5.2"/></g>
<g id="n33_153"><circle cx="360.7" cy="3110.7" r="5.2"/></g>
<g id="n33_154"><circle cx="360.7" cy="3130.9" r="5.2"/></g>
<g id="n33_155"><circle cx="360.7" cy="3151.2" r="5.2"/></g>
<g id="n33_156"><circle cx="360.7" cy="3171.5" r="5.2"/></g>
<g id="n33_157"><circle cx="360.7" cy="3191.7" r="5.2"/></g>
<g id="n33_158"><circle cx="360.7" cy="3212" r="5.2"/></g>
<g id="n33_159"><circle cx="360.7" cy="3232.3" r="5.2"/></g>
<g id="n33_160"><circle cx="360.7" cy="3252.5" r="5.2"/></g>
<g id="n33_161"><circle cx="360.7" cy="3272.8" r="5.2"/></g>
<g id="n33_162"><circle cx="360.7" cy="3293.1" r="5.2"/></g>
<g id="n33_163"><circle cx="360.7" cy="3313.3" r="5.2"/></g>
<g id="n33_164"><circle cx="360.7" cy="3333.6" r="5.2"/></g>
<g id="n33_165"><circle cx="360.7" cy="3353.9" r="5.2"/></g>
<g id="n33_166"><circle cx="360.7" cy="3374.1" r="5.2"/></g>
<g id="n33_167"><circle cx="360.7" cy="3394.4" r="5.2"/></g>
<g id="n33_168"><circle cx="360.7" cy="3414.7" r="5.2"/></g>
<g id="n33_169"><circle cx="360.7" cy="3434.9" r="5.2"/></g>
<g id="n33_170"><circle cx="360.7" cy="3455.2" r="5.2"/></g>
<g id="n33_171"><circle cx="360.7" cy="3475.4" r="5.2"/></g>
<g id="n33_172"><circle cx="360.7" cy="3495.7" r="5.2"/></g>
<g id="n33_173"><circle cx="360.7" cy="3516" r="5.2"/></g>
<g id="n33_174"><circle cx="360.7" cy="3536.2" r="5.2"/></g>
<g id="n33_175"><circle cx="360.7" cy="3556.5" r="5.2"/></g>
<g id="n33_176"><circle cx="360.7" cy="3576.8" r="5.2"/></g>
<g id="n34_177"><circle cx="352.7" cy="3597" r="5.2"/></g>
<g id="n34_178"><circle cx="352.7" cy="3617.3" r="5.2"/></g>
<g id="n35_177"><circle cx="386" cy="3597" r="5.2"/></g>
<g id="n35_178"><circle cx="386" cy="3617.3" r="5.2"/></g>
<g id="n35_179"><circle cx="386" cy="3637.6" r="5.2"/></g>
<g id="n35_180"><circle cx="386" cy="3657.8" r="5.2"/></g>
<g id="n35_181"><circle cx="386" cy="3678.1" r="5.2"/></g>
<g id="n35_182"><circle cx="386" cy="3698.4" r="5.2"/></g>
<g id="n35_183"><circle cx="386" cy="3718.6" r="5.2"/></g>
<g id="n35_184"><circle cx="386" cy="3738.9" r="5.2"/></g>
<g id="n35_185"><circle cx="386" cy="3759.2" r="5.2"/></g>
<g id="n35_186"><circle cx="386" cy="3779.4" r="5.2"/></g>
<g id="n35_187"><circle cx="386" cy="3799.7" r="5.2"/></g>
<g id="n35_188"><circle cx="386" cy="3820" r="5.2"/></g>
<g id="n35_189"><circle cx="386" cy="3840.2" r="5.2"/></g>
<g id="n35_190"><circle cx="386" cy="3860.5" r="5.2"/></g>
<g id="n35_191"><circle cx="386" cy="3880.7" r="5.2"/></g>
<g id="n35_192"><circle cx="386" cy="3901" r="5.2"/></g>
<g id="n36_167"><circle cx="286" cy="3394.4" r="5.2"/></g>
<g id="n36_168"><circle cx="286" cy="3414.7" r="5.2"/></g>
<g id="n36_169"><circle cx="286" cy="3434.9" r="5.2"/></g>
<g id="n36_170"><circle cx="286" cy="3455.2" r="5.2"/></g>
<g id="n36_171"><circle cx="286" cy="3475.4" r="5.2"/></g>
<g id="n36_172"><circle cx="286" cy="3495.7" r="5.2"/></g>
<g id="n36_173"><circle cx="286" cy="3516" r="5.2"/></g>
<g id="n36_174"><circle cx="286" cy="3536.2" r="5.2"/></g>
<g id="n37_175"><circle cx="286" cy="3556.5" r="5.2"/></g>
<g id="n37_176"><circle cx="286" cy="3576.8" r="5.2"/></g>
<g id="n38_195"><circle cx="286" cy="3961.8" r="5.2"/></g>
<g id="n38_196"><circle cx="286" cy="3982.1" r="5.2"/></g>
<g id="n38_197"><circle cx="286" cy="4002.3" r="5.2"/></g>
<g id="n38_198"><circle cx="286" cy="4022.6" r="5.2"/></g>
<g id="n38_199"><circle cx="286" cy="4042.9" r="5.2"/></g>
<g id="n38_200"><circle cx="286" cy="4063.1" r="5.2"/></g>
<g id="n38_201"><circle cx="286" cy="4083.4" r="5.2"/></g>
<g id="n38_202"><circle cx="286" cy="4103.7" r="5.2"/></g>
<g id="n39_173"><circle cx="319.3" cy="3516" r="5.2"/></g>
<g id="n39_174"><circle cx="319.3" cy="3536.2" r="5.2"/></g>
<g id="n39_175"><circle cx="319.3" cy="3556.5" r="5.2"/></g>
<g id="n39_176"><circle cx="319.3" cy="3576.8" r="5.2"/></g>
<g id="n39_177"><circle cx="319.3" cy="3597" r="5.2"/></g>
<g id="n39_178"><circle cx="319.3" cy="3617.3" r="5.2"/></g>
<g id="n39_179"><circle cx="319.3" cy="3637.6" r="5.2"/></g>
<g id="n39_180"><circle cx="319.3" cy="3657.8" r="5.2"/></g>
<g id="n40_181"><circle cx="303.3" cy="3678.1" r="5.2"/></g>
<g id="n40_182"><circle cx="303.3" cy="3698.4" r="5.2"/></g>
<g id="n41_181"><circle cx="336.7" cy="3678.1" r="5.2"/></g>
<g id="n41_182"><circle cx="336.7" cy="3698.4" r="5.2"/></g>
<g id="n41_183"><circle cx="336.7" cy="3718.6" r="5.2"/></g>
<g id="n41_184"><circle cx="336.7" cy="3738.9" r="5.2"/></g>
<g id="n41_185"><circle cx="336.7" cy="3759.2" r="5.2"/></g>
<g id="n41_186"><circle cx="336.7" cy="3779.4" r="5.2"/></g>
<g id="n41_187"><circle cx="336.7" cy="3799.7" r="5.2"/></g>
<g id="n41_188"><circle cx="336.7" cy="3820" r="5.2"/></g>
<g id="n41_189"><circle cx="336.7" cy="3840.2" r="5.2"/></g>
<g id="n41_190"><circle cx="336.7" cy="3860.5" r="5.2"/></g>
<g id="n42_191"><circle cx="319.3" cy="3880.7" r="5.2"/></g>
<g id="n42_192"><circle cx="319.3" cy="3901" r="5.2"/></g>
<g id="n42_193"><circle cx="319.3" cy="3921.3" r="5.2"/></g>
<g id="n42_194"><circle cx="319.3" cy="3941.5" r="5.2"/></g>
<g id="n42_195"><circle cx="319.3" cy="3961.8" r="5.2"/></g>
<g id="n42_196"><circle cx="319.3" cy="3982.1" r="5.2"/></g>
<g id="n42_197"><circle cx="319.3" cy="4002.3" r="5.2"/></g>
<g id="n42_198"><circle cx="319.3" cy="4022.6" r="5.2"/></g>
<g id="n42_199"><circle cx="319.3" cy="4042.9" r="5.2"/></g>
<g id="n42_200"><circle cx="319.3" cy="4063.1" r="5.2"/></g>
<g id="n43_191"><circle cx="352.7" cy="3880.7" r="5.2"/></g>
<g id="n43_192"><circle cx="352.7" cy="3901" r="5.2"/></g>
<g id="n44_199"><circle cx="352.7" cy="4042.9" r="5.2"/></g>
<g id="n44_200"><circle cx="352.7" cy="4063.1" r="5.2"/></g>
<g id="n44_201"><circle cx="352.7" cy="4083.4" r="5.2"/></g>
<g id="n44_202"><circle cx="352.7" cy="4103.7" r="5.2"/></g>
<g id="n44_203"><circle cx="352.7" cy="4123.9" r="5.2"/></g>
<g id="n44_204"><circle cx="352.7" cy="4144.2" r="5.2"/></g>
<g id="n44_205"><circle cx="352.7" cy="4164.5" r="5.2"/></g>
<g id="n44_206"><circle cx="352.7" cy="4184.7" r="5.2"/></g>
<g id="n44_207"><circle cx="352.7" cy="4205" r="5.2"/></g>
<g id="n44_208"><circle cx="352.7" cy="4225.3" r="5.2"/></g>
<g id="n44_209"><circle cx="352.7" cy="4245.5" r="5.2"/></g>
<g id="n44_210"><circle cx="352.7" cy="4265.8" r="5.2"/></g>
<g id="n45_211"><circle cx="340.7" cy="4286" r="5.2"/></g>
<g id="n45_212"><circle cx="340.7" cy="4306.3" r="5.2"/></g>
<g id="n45_213"><circle cx="340.7" cy="4326.6" r="5.2"/></g>
<g id="n45_214"><circle cx="340.7" cy="4346.8" r="5.2"/></g>
<g id="n45_215"><circle cx="340.7" cy="4367.1" r="5.2"/></g>
<g id="n45_216"><circle cx="340.7" cy="4387.4" r="5.2"/></g>
<g id="n45_217"><circle cx="340.7" cy="4407.6" r="5.2"/></g>
<g id="n45_218"><circle cx="340.7" cy="4427.9" r="5.2"/></g>
<g id="n45_219"><circle cx="340.7" cy="4448.2" r="5.2"/></g>
<g id="n45_220"><circle cx="340.7" cy="4468.4" r="5.2"/></g>
<g id="n45_221"><circle cx="340.7" cy="4488.7" r="5.2"/></g>
<g id="n45_222"><circle cx="340.7" cy="4509" r="5.2"/></g>
<g id="n45_223"><circle cx="340.7" cy="4529.2" r="5.2"/></g>
<g id="n45_224"><circle cx="340.7" cy="4549.5" r="5.2"/></g>
<g id="n45_225"><circle cx="340.7" cy="4569.8" r="5.2"/></g>
<g id="n45_226"><circle cx="340.7" cy="4590" r="5.2"/></g>
<g id="n45_227"><circle cx="340.7" cy="4610.3" r="5.2"/></g>
<g id="n45_228"><circle cx="340.7" cy="4630.6" r="5.2"/></g>
<g id="n46_211"><circle cx="374" cy="4286" r="5.2"/></g>
<g id="n46_212"><circle cx="374" cy="4306.3" r="5.2"/></g>
<g id="n46_213"><circle cx="374" cy="4326.6" r="5.2"/></g>
<g id="n46_214"><circle cx="374" cy="4346.8" r="5.2"/></g>
<g id="n46_215"><circle cx="374" cy="4367.1" r="5.2"/></g>
<g id="n46_216"><circle cx="374" cy="4387.4" r="5.2"/></g>
<g id="n46_217"><circle cx="374" cy="4407.6" r="5.2"/></g>
<g id="n46_218"><circle cx="374" cy="4427.9" r="5.2"/></g>
<g id="n46_219"><circle cx="374" cy="4448.2" r="5.2"/></g>
<g id="n46_220"><circle cx="374" cy="4468.4" r="5.2"/></g>
<g id="n46_221"><circle cx="374" cy="4488.7" r="5.2"/></g>
<g id="n46_222"><circle cx="374" cy="4509" r="5.2"/></g>
<g id="n47_217"><circle cx="307.3" cy="4407.6" r="5.2"/></g>
<g id="n47_218"><circle cx="307.3" cy="4427.9" r="5.2"/></g>
<g id="n47_219"><circle cx="307.3" cy="4448.2" r="5.2"/></g>
<g id="n47_220"><circle cx="307.3" cy="4468.4" r="5.2"/></g>
<g id="n47_221"><circle cx="307.3" cy="4488.7" r="5.2"/></g>
<g id="n47_222"><circle cx="307.3" cy="4509" r="5.2"/></g>
<g id="n47_223"><circle cx="307.3" cy="4529.2" r="5.2"/></g>
<g id="n47_224"><circle cx="307.3" cy="4549.5" r="5.2"/></g>
<g id="n47_225"><circle cx="307.3" cy="4569.8" r="5.2"/></g>
<g id="n47_226"><circle cx="307.3" cy="4590" r="5.2"/></g>
<g id="n48_219"><circle cx="274" cy="4448.2" r="5.2"/></g>
<g id="n48_220"><circle cx="274" cy="4468.4" r="5.2"/></g>
<g id="n49_225"><circle cx="274" cy="4569.8" r="5.2"/></g>
<g id="n49_226"><circle cx="274" cy="4590" r="5.2"/></g>
<g id="n49_227"><circle cx="274" cy="4610.3" r="5.2"/></g>
<g id="n49_228"><circle cx="274" cy="4630.6" r="5.2"/></g>
<g id="n49_229"><circle cx="274" cy="4650.8" r="5.2"/></g>
<g id="n49_230"><circle cx="274" cy="4671.1" r="5.2"/></g>
<g id="n49_231"><circle cx="274" cy="4691.3" r="5.2"/></g>
<g id="n49_232"><circle cx="274" cy="4711.6" r="5.2"/></g>
<g id="n49_233"><circle cx="274" cy="4731.9" r="5.2"/></g>
<g id="n49_234"><circle cx="274" cy="4752.1" r="5.2"/></g>
<g id="n49_235"><circle cx="274" cy="4772.4" r="5.2"/></g>
<g id="n49_236"><circle cx="274" cy="4792.7" r="5.2"/></g>
<g id="n49_237"><circle cx="274" cy="4812.9" r="5.2"/></g>
<g id="n49_238"><circle cx="274" cy="4833.2" r="5.2"/></g>
<g id="n49_239"><circle cx="274" cy="4853.5" r="5.2"/></g>
<g id="n49_240"><circle cx="274" cy="4873.7" r="5.2"/></g>
<g id="n49_241"><circle cx="274" cy="4894" r="5.2"/></g>
<g id="n49_242"><circle cx="274" cy="4914.3" r="5.2"/></g>
<g id="n50_221"><circle cx="407.3" cy="4488.7" r="5.2"/></g>
<g id="n50_222"><circle cx="407.3" cy="4509" r="5.2"/></g>
<g id="n50_223"><circle cx="407.3" cy="4529.2" r="5.2"/></g>
<g id="n50_224"><circle cx="407.3" cy="4549.5" r="5.2"/></g>
<g id="n50_225"><circle cx="407.3" cy="4569.8" r="5.2"/></g>
<g id="n50_226"><circle cx="407.3" cy="4590" r="5.2"/></g>
<g id="n50_227"><circle cx="407.3" cy="4610.3" r="5.2"/></g>
<g id="n50_228"><circle cx="407.3" cy="4630.6" r="5.2"/></g>
<g id="n50_229"><circle cx="407.3" cy="4650.8" r="5.2"/></g>
<g id="n50_230"><circle cx="407.3" cy="4671.1" r="5.2"/></g>
<g id="n50_231"><circle cx="407.3" cy="4691.3" r="5.2"/></g>
<g id="n50_232"><circle cx="407.3" cy="4711.6" r="5.2"/></g>
<g id="n51_233"><circle cx="390" cy="4731.9" r="5.2"/></g>
<g id="n51_234"><circle cx="390" cy="4752.1" r="5.2"/></g>
<g id="n51_235"><circle cx="390" cy="4772.4" r="5.2"/></g>
<g id="n51_236"><circle cx="390" cy="4792.7" r="5.2"/></g>
<g id="n51_237"><circle cx="390" cy="4812.9" r="5.2"/></g>
<g id="n51_238"><circle cx="390" cy="4833.2" r="5.2"/></g>
<g id="n52_233"><circle cx="423.3" cy="4731.9" r="5.2"/></g>
<g id="n52_234"><circle cx="423.3" cy="4752.1" r="5.2"/></g>
<g id="n52_235"><circle cx="423.3" cy="4772.4" r="5.2"/></g>
<g id="n52_236"><circle cx="423.3" cy="4792.7" r="5.2"/></g>
<g id="n53_235"><circle cx="456.7" cy="4772.4" r="5.2"/></g>
<g id="n53_236"><circle cx="456.7" cy="4792.7" r="5.2"/></g>
<g id="n53_237"><circle cx="456.7" cy="4812.9" r="5.2"/></g>
<g id="n53_238"><circle cx="456.7" cy="4833.2" r="5.2"/></g>
<g id="n53_239"><circle cx="456.7" cy="4853.5" r="5.2"/></g>
<g id="n53_240"><circle cx="456.7" cy="4873.7" r="5.2"/></g>
<g id="n53_241"><circle cx="456.7" cy="4894" r="5.2"/></g>
<g id="n53_242"><circle cx="456.7" cy="4914.3" r="5.2"/></g>
<g id="n53_243"><circle cx="456.7" cy="4934.5" r="5.2"/></g>
<g id="n53_244"><circle cx="456.7" cy="4954.8" r="5.2"/></g>
<g id="n54_189"><circle cx="186" cy="3840.2" r="5.2"/></g>
<g id="n54_190"><circle cx="186" cy="3860.5" r="5.2"/></g>
<g id="n54_191"><circle cx="186" cy="3880.7" r="5.2"/></g>
<g id="n54_192"><circle cx="186" cy="3901" r="5.2"/></g>
<g id="n54_193"><circle cx="186" cy="3921.3" r="5.2"/></g>
<g id="n54_194"><circle cx="186" cy="3941.5" r="5.2"/></g>
<g id="n54_195"><circle cx="186" cy="3961.8" r="5.2"/></g>
<g id="n54_196"><circle cx="186" cy="3982.1" r="5.2"/></g>
<g id="n54_197"><circle cx="186" cy="4002.3" r="5.2"/></g>
<g id="n54_198"><circle cx="186" cy="4022.6" r="5.2"/></g>
<g id="n54_199"><circle cx="186" cy="4042.9" r="5.2"/></g>
<g id="n54_200"><circle cx="186" cy="4063.1" r="5.2"/></g>
<g id="n54_201"><circle cx="186" cy="4083.4" r="5.2"/></g>
<g id="n54_202"><circle cx="186" cy="4103.7" r="5.2"/></g>
<g id="n54_203"><circle cx="186" cy="4123.9" r="5.2"/></g>
<g id="n54_204"><circle cx="186" cy="4144.2" r="5.2"/></g>
<g id="n54_205"><circle cx="186" cy="4164.5" r="5.2"/></g>
<g id="n54_206"><circle cx="186" cy="4184.7" r="5.2"/></g>
<g id="n54_207"><circle cx="186" cy="4205" r="5.2"/></g>
<g id="n54_208"><circle cx="186" cy="4225.3" r="5.2"/></g>
<g id="n54_209"><circle cx="186" cy="4245.5" r="5.2"/></g>
<g id="n54_210"><circle cx="186" cy="4265.8" r="5.2"/></g>
<g id="n54_211"><circle cx="186" cy="4286" r="5.2"/></g>
<g id="n54_212"><circle cx="186" cy="4306.3" r="5.2"/></g>
<g id="n54_213"><circle cx="186" cy="4326.6" r="5.2"/></g>
<g id="n54_214"><circle cx="186" cy="4346.8" r="5.2"/></g>
<g id="n55_195"><circle cx="152.7" cy="3961.8" r="5.2"/></g>
<g id="n55_196"><circle cx="152.7" cy="3982.1" r="5.2"/></g>
<g id="n55_197"><circle cx="152.7" cy="4002.3" r="5.2"/></g>
<g id="n55_198"><circle cx="152.7" cy="4022.6" r="5.2"/></g>
<g id="n55_199"><circle cx="152.7" cy="4042.9" r="5.2"/></g>
<g id="n55_200"><circle cx="152.7" cy="4063.1" r="5.2"/></g>
<g id="n55_201"><circle cx="152.7" cy="4083.4" r="5.2"/></g>
<g id="n55_202"><circle cx="152.7" cy="4103.7" r="5.2"/></g>
<g id="n56_201"><circle cx="219" cy="4083.4" r="5.2"/></g>
<g id="n56_202"><circle cx="219" cy="4103.7" r="5.2"/></g>
<g id="n57_215"><circle cx="170" cy="4367.1" r="5.2"/></g>
<g id="n57_216"><circle cx="170" cy="4387.4" r="5.2"/></g>
<g id="n57_217"><circle cx="170" cy="4407.6" r="5.2"/></g>
<g id="n57_218"><circle cx="170" cy="4427.9" r="5.2"/></g>
<g id="n57_219"><circle cx="170" cy="4448.2" r="5.2"/></g>
<g id="n57_220"><circle cx="170" cy="4468.4" r="5.2"/></g>
<g id="n57_221"><circle cx="170" cy="4488.7" r="5.2"/></g>
<g id="n57_222"><circle cx="170" cy="4509" r="5.2"/></g>
<g id="n57_223"><circle cx="170" cy="4529.2" r="5.2"/></g>
<g id="n57_224"><circle cx="170" cy="4549.5" r="5.2"/></g>
<g id="n58_215"><circle cx="203.3" cy="4367.1" r="5.2"/></g>
<g id="n58_216"><circle cx="203.3" cy="4387.4" r="5.2"/></g>
<g id="n58_217"><circle cx="203.3" cy="4407.6" r="5.2"/></g>
<g id="n58_218"><circle cx="203.3" cy="4427.9" r="5.2"/></g>
<g id="n58_219"><circle cx="203.3" cy="4448.2" r="5.2"/></g>
<g id="n58_220"><circle cx="203.3" cy="4468.4" r="5.2"/></g>
<g id="n58_221"><circle cx="203.3" cy="4488.7" r="5.2"/></g>
<g id="n58_222"><circle cx="203.3" cy="4509" r="5.2"/></g>
<g id="n58_223"><circle cx="203.3" cy="4529.2" r="5.2"/></g>
<g id="n58_224"><circle cx="203.3" cy="4549.5" r="5.2"/></g>
<g id="n59_199"><circle cx="119.3" cy="4042.9" r="5.2"/></g>
<g id="n59_200"><circle cx="119.3" cy="4063.1" r="5.2"/></g>
<g id="n60_225"><circle cx="195.3" cy="4569.8" r="5.2"/></g>
<g id="n60_226"><circle cx="195.3" cy="4590" r="5.2"/></g>
<g id="n60_227"><circle cx="195.3" cy="4610.3" r="5.2"/></g>
<g id="n60_228"><circle cx="195.3" cy="4630.6" r="5.2"/></g>
<g id="n60_229"><circle cx="195.3" cy="4650.8" r="5.2"/></g>
<g id="n60_230"><circle cx="195.3" cy="4671.1" r="5.2"/></g>
<g id="n61_225"><circle cx="228.7" cy="4569.8" r="5.2"/></g>
<g id="n61_226"><circle cx="228.7" cy="4590" r="5.2"/></g>
</g>
</svg>
